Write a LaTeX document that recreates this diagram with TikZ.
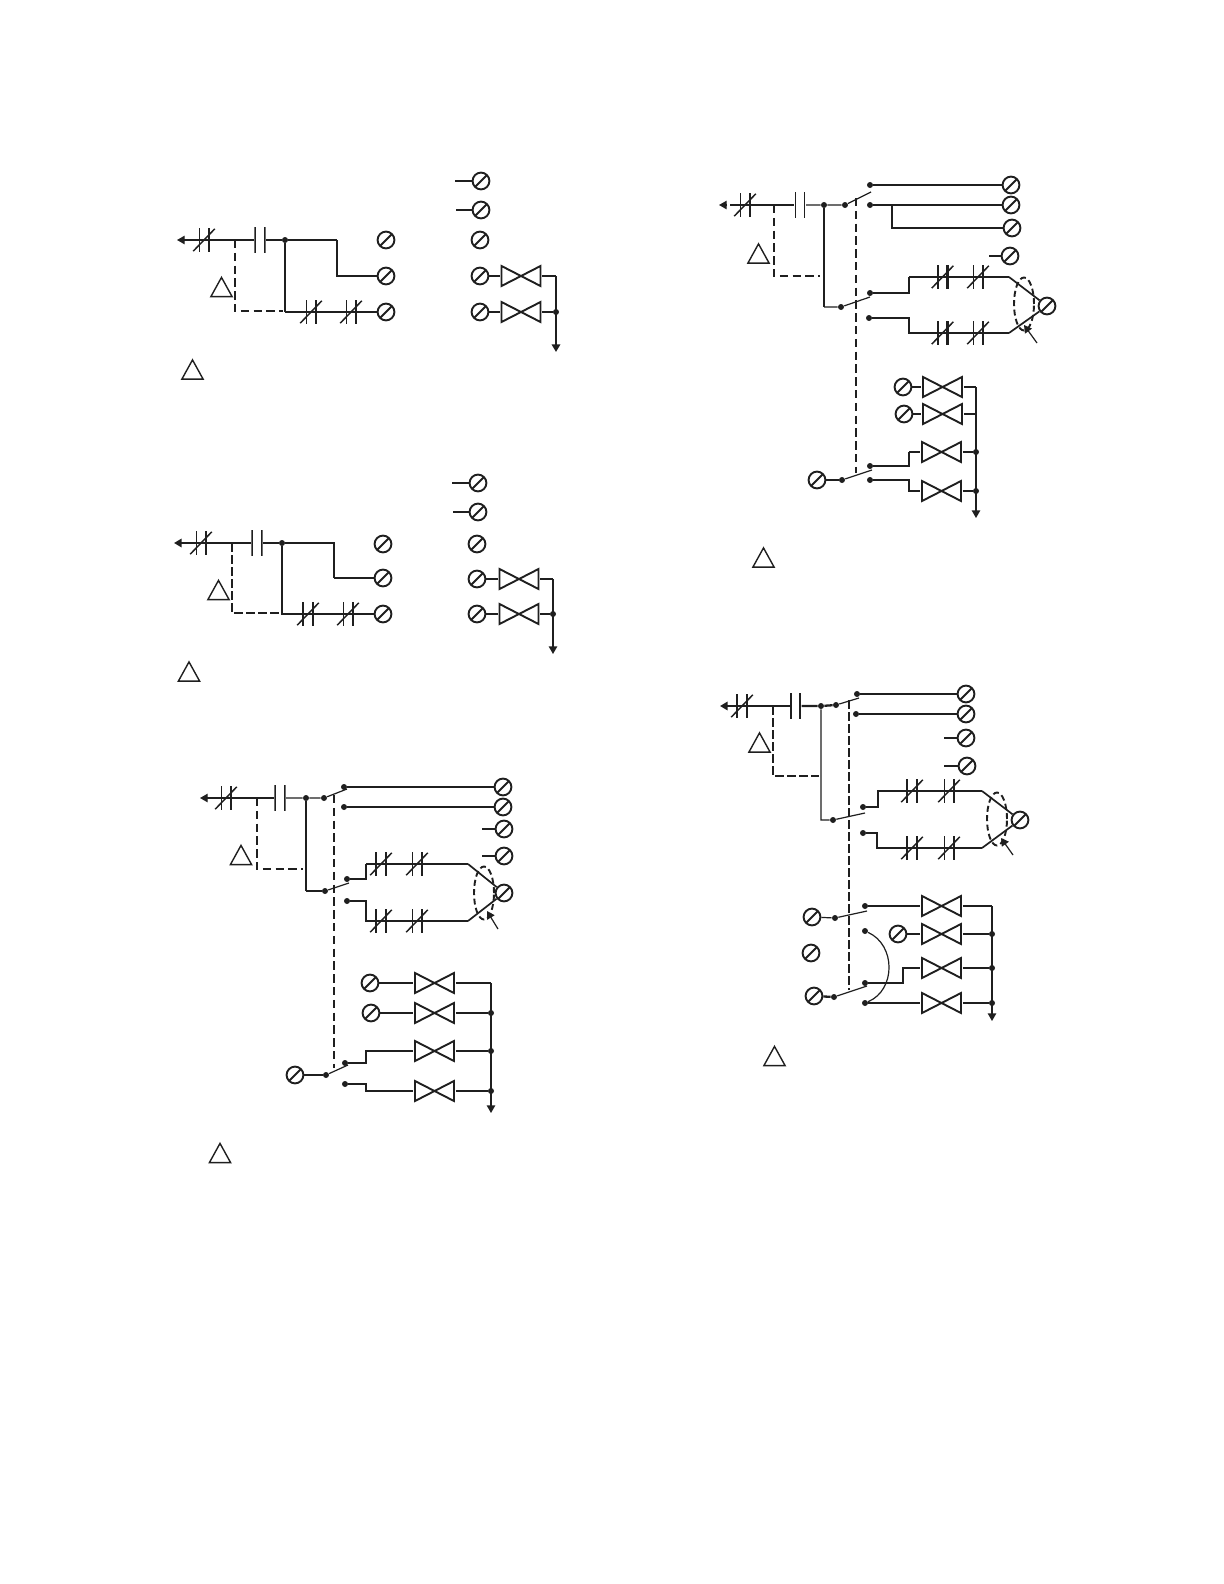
\documentclass[tikz,border=0pt]{standalone}
\usetikzlibrary{arrows.meta,shapes.geometric}
\colorlet{ink}{black!88}
\newcommand{\Wk}{1.1pt}
\newcommand{\Wn}{.6pt}
\tikzset{
  thinl/.style={line width=.6pt,draw=ink},
  thickl/.style={line width=1.15pt,draw=ink},
  dashthick/.style={line width=1pt,draw=ink,dash pattern=on 4.2pt off 2.2pt},
  dashthin/.style={line width=.55pt,draw=ink,dash pattern=on 4.3pt off 1.7pt},
  arrowtip/.style={-{Triangle[length=3.8pt,width=4.2pt]}},
  term/.style={circle,draw=ink,line width=.95pt,minimum size=8.4pt,inner sep=0pt,
    path picture={\draw[line width=.95pt,draw=ink] (path picture bounding box.south west)--(path picture bounding box.north east);}},
  dotn/.style={circle,fill=ink,minimum size=3pt,inner sep=0pt},
  valvesym/.style={rectangle,minimum width=21pt,minimum height=11.6pt,inner sep=0pt,
    path picture={\draw[line width=.95pt,draw=ink,line join=miter,shift={(path picture bounding box.center)}]
      (-9.75pt,-5pt)--(-9.75pt,5pt)--(9.75pt,-5pt)--(9.75pt,5pt)--cycle;}},
  nc/.style 2 args={rectangle,minimum size=12.4pt,inner sep=0pt,
    path picture={\begin{scope}[shift={(path picture bounding box.center)},draw=ink]
      \draw[line width=#1] (-2.45pt,-5.8pt)--(-2.45pt,5.8pt);
      \draw[line width=#2] (2.45pt,-5.8pt)--(2.45pt,5.8pt);
      \draw[line width=.75pt] (-5.4pt,-5.6pt)--(5.4pt,5.6pt);
    \end{scope}}},
  capk/.style={rectangle,minimum width=5.6pt,minimum height=12.6pt,inner sep=0pt,
    path picture={\begin{scope}[shift={(path picture bounding box.center)},draw=ink]
      \draw[line width=#1] (-2.4pt,-6.3pt)--(-2.4pt,6.3pt);
      \draw[line width=#1] (2.4pt,-6.3pt)--(2.4pt,6.3pt);
    \end{scope}}},
  trimark/.style={rectangle,minimum width=12.4pt,minimum height=11.4pt,inner sep=0pt,
    path picture={\draw[line width=.7pt,draw=ink,line join=miter,shift={(path picture bounding box.center)}]
      (-5.3pt,-4.8pt)--(5.3pt,-4.8pt)--(0pt,4.8pt)--cycle;}},
  loopn/.style={ellipse,dash pattern=on 3pt off 1.7pt,draw=ink,line width=.95pt,inner sep=0pt,minimum width=10pt,minimum height=26.5pt},
}
\begin{document}
\begin{tikzpicture}[x=.5pt,y=-.5pt]
\path[use as bounding box] (0,0) rectangle (1224,1584);

%% ---------- Diagram 1 ----------
\node[term] (A1) at (481,181) {};
\node[term] (A2) at (481,210) {};
\node[term] (A3) at (480,240) {};
\node[term] (A4) at (480,276) {};
\node[term] (A5) at (480,312) {};
\node[term] (B1) at (386,240) {};
\node[term] (B2) at (386,276) {};
\node[term] (B3) at (386,312) {};
\coordinate (As1) at (455,181);
\coordinate (As2) at (456,210);
\draw[thickl] (As1)--(A1);
\draw[thickl] (As2)--(A2);
\coordinate (Atip) at (177,240);
\node[nc={\Wn}{\Wn}] (Ac1) at (204,240) {};
\node[capk=\Wk] (Ak) at (260,240) {};
\node[dotn] (Ad) at (285,240) {};
\coordinate (Aj) at (235,240);
\coordinate (Ab1) at (337,240);
\coordinate (Ab2) at (337,276);
\coordinate (Ab3) at (285,312);
\coordinate (Ada) at (235,311);
\coordinate (Adb) at (283,311);
\node[nc={\Wn}{\Wk}] (Ac2) at (311,312) {};
\node[nc={\Wn}{\Wn}] (Ac3) at (351,312) {};
\draw[thinl,arrowtip] (Ak)--(Atip);
\draw[thinl] (Ak)--(Ad)--(Ab1);
\draw[thickl] (Ab1)--(Ab2)--(B2);
\draw[thinl] (Ad)--(Ab3);
\draw[thickl] (Ab3)--(Ac2.center)--(Ac3.center)--(B3);
\draw[dashthick] (Aj)--(Ada)--(Adb);
\node[valvesym] (Av1) at (521,276) {};
\node[valvesym] (Av2) at (521,312) {};
\coordinate (Ar1) at (556,276);
\node[dotn] (Ard) at (556,312) {};
\coordinate (Aend) at (556,352);
\draw[thinl] (A4)--(Av1.west);
\draw[thinl] (A5)--(Av2.west);
\draw[thinl] (Av1.east)--(Ar1);
\draw[thinl] (Av2.east)--(Ard);
\draw[thickl,arrowtip] (Ar1)--(Aend);
\node[trimark] (At1) at (221.5,287) {};
\node[trimark] (At2) at (192.5,369.5) {};

%% ---------- Diagram 2 ----------
\node[term] (C1) at (478,483) {};
\node[term] (C2) at (478,512) {};
\node[term] (C3) at (477,544) {};
\node[term] (C4) at (477,579) {};
\node[term] (C5) at (477,614) {};
\node[term] (D1) at (383,544) {};
\node[term] (D2) at (383,578) {};
\node[term] (D3) at (383,614) {};
\coordinate (Cs1) at (452,483);
\coordinate (Cs2) at (453,512);
\draw[thinl] (Cs1)--(C1);
\draw[thinl] (Cs2)--(C2);
\coordinate (Ctip) at (174,543);
\node[nc={\Wn}{\Wk}] (Cc1) at (201,543) {};
\node[capk=\Wk] (Ck) at (257,543) {};
\node[dotn] (Cd) at (282,543) {};
\coordinate (Cj) at (232,543);
\coordinate (Cb1) at (334,543);
\coordinate (Cb2) at (334,578);
\coordinate (Cb3) at (282,614);
\coordinate (Cda) at (232,613);
\coordinate (Cdb) at (280,613);
\node[nc={\Wk}{\Wk}] (Cc2) at (308,614) {};
\node[nc={\Wn}{\Wk}] (Cc3) at (348,614) {};
\draw[thickl,arrowtip] (Ck)--(Ctip);
\draw[thickl] (Ck)--(Cd)--(Cb1)--(Cb2);
\draw[thinl] (Cb2)--(D2);
\draw[thinl] (Cd)--(Cb3)--(Cc2.center)--(Cc3.center)--(D3);
\draw[dashthin] (Cj)--(Cda)--(Cdb);
\node[valvesym] (Cv1) at (519,579) {};
\node[valvesym] (Cv2) at (519,614) {};
\coordinate (Cr1) at (553,579);
\node[dotn] (Crd) at (553,614) {};
\coordinate (Cend) at (553,654);
\draw[thickl] (C4)--(Cv1.west);
\draw[thinl] (C5)--(Cv2.west);
\draw[thickl] (Cv1.east)--(Cr1);
\draw[thinl] (Cv2.east)--(Crd);
\draw[thinl,arrowtip] (Cr1)--(Cend);
\node[trimark] (Ct1) at (218.5,590) {};
\node[trimark] (Ct2) at (189,671.5) {};

%% ---------- Diagram 3 ----------
\node[term] (E1) at (503,787) {};
\node[term] (E2) at (503,807) {};
\node[term] (E3) at (504,829) {};
\node[term] (E4) at (504,856) {};
\node[term] (E5) at (504,893) {};
\coordinate (Es3) at (482,829);
\coordinate (Es4) at (482,856);
\draw[thinl] (Es3)--(E3);
\draw[thinl] (Es4)--(E4);
\coordinate (Etip) at (200,798);
\node[nc={\Wn}{\Wk}] (Ec1) at (226,798) {};
\node[capk=\Wk] (Ek) at (280,798) {};
\coordinate (Ej) at (257,798);
\node[dotn] (Ed) at (306,798) {};
\node[dotn] (Ep1) at (324,798) {};
\node[dotn] (Eq1) at (344,787) {};
\node[dotn] (Eq2) at (344,807) {};
\coordinate (Ebl1) at (347,789);
\draw[thinl,arrowtip] (Ek)--(Etip);
\draw[thinl] (Ek)--(Ed)--(Ep1)--(Ebl1);
\draw[thickl] (Eq1)--(E1);
\draw[thickl] (Eq2)--(E2);
\coordinate (Eda) at (257,869);
\coordinate (Edb) at (303,869);
\draw[dashthick] (Ej)--(Eda)--(Edb);
\coordinate (Eb1) at (306,891);
\node[dotn] (Ep2) at (325,891) {};
\draw[thinl] (Ed)--(Eb1);
\draw[thickl] (Eb1)--(Ep2);
\coordinate (Ebl2) at (349,883);
\draw[thinl] (Ep2)--(Ebl2);
\node[dotn] (Eq3) at (347,879) {};
\node[dotn] (Eq4) at (347,901) {};
\coordinate (Eu1) at (366,879);
\coordinate (Eu2) at (366,864);
\coordinate (Eu3) at (468,864);
\coordinate (El1) at (366,901);
\coordinate (El2) at (366,921);
\coordinate (El3) at (468,921);
\node[nc={\Wk}{\Wk}] (Ec2) at (381,864) {};
\node[nc={\Wn}{\Wk}] (Ec3) at (417,864) {};
\node[nc={\Wk}{\Wk}] (Ec4) at (381,921) {};
\node[nc={\Wn}{\Wk}] (Ec5) at (417,921) {};
\draw[thickl] (Eq3)--(Eu1)--(Eu2);
\draw[thinl] (Eu2)--(Ec2.center)--(Ec3.center)--(Eu3);
\draw[thinl] (Eq4)--(El1)--(El2)--(Ec4.center)--(Ec5.center)--(El3);
\draw[line width=.85pt,draw=ink] (Eu3)--(E5);
\draw[line width=.85pt,draw=ink] (El3)--(E5);
\node[loopn] (El) at (484,893) {};
\coordinate (Ea1) at (498,929);
\coordinate (Ea2) at (487,911);
\draw[thinl,arrowtip] (Ea1)--(Ea2);
\coordinate (Edv1) at (334,795);
\coordinate (Edv2) at (334,1068);
\draw[dashthick] (Edv1)--(Edv2);
\node[term] (F1) at (370,983) {};
\node[term] (F2) at (371,1013) {};
\node[term] (F3) at (295,1075) {};
\node[valvesym] (Fv1) at (434.5,983) {};
\node[valvesym] (Fv2) at (434.5,1013) {};
\node[valvesym] (Fv3) at (434.5,1051) {};
\node[valvesym] (Fv4) at (434.5,1091) {};
\coordinate (Ft) at (491,983);
\node[dotn] (Fd2) at (491,1013) {};
\node[dotn] (Fd3) at (491,1051) {};
\node[dotn] (Fd4) at (491,1091) {};
\coordinate (Fend) at (491,1113);
\draw[thinl] (F1)--(Fv1.west);
\draw[thickl] (F2)--(Fv2.west);
\draw[thinl] (Fv1.east)--(Ft);
\draw[thickl] (Fv2.east)--(Fd2);
\draw[thickl] (Fv3.east)--(Fd3);
\draw[thickl] (Fv4.east)--(Fd4);
\draw[thinl,arrowtip] (Ft)--(Fend);
\node[dotn] (Fp) at (326,1075) {};
\node[dotn] (Fq1) at (345,1063) {};
\node[dotn] (Fq2) at (345,1084) {};
\coordinate (Fbl) at (348,1065);
\draw[thickl] (F3)--(Fp);
\draw[thinl] (Fp)--(Fbl);
\coordinate (Fu1) at (366,1063);
\coordinate (Fu2) at (366,1051);
\coordinate (Fl1) at (366,1084);
\coordinate (Fl2) at (366,1091);
\draw[thickl] (Fq1)--(Fu1)--(Fu2)--(Fv3.west);
\draw[thickl] (Fq2)--(Fl1)--(Fl2)--(Fv4.west);
\node[trimark] (Et1) at (241,855) {};
\node[trimark] (Et2) at (220,1153) {};

%% ---------- Diagram 4 ----------
\node[term] (G1) at (1011,185) {};
\node[term] (G2) at (1011,205) {};
\node[term] (G3) at (1012,228) {};
\node[term] (G4) at (1010,256) {};
\node[term] (G5) at (1047,306) {};
\coordinate (Gs4) at (989,256);
\draw[thinl] (Gs4)--(G4);
\coordinate (Gtip) at (719,205);
\coordinate (Gtail) at (727,205);
\draw[thinl,arrowtip] (Gtail)--(Gtip);
\coordinate (Gst) at (730,205);
\node[nc={\Wn}{\Wk}] (Gc1) at (745,205) {};
\node[capk=\Wn] (Gk) at (800,205) {};
\coordinate (Gj) at (774,205);
\node[dotn] (Gd) at (824,205) {};
\node[dotn] (Gp1) at (845,205) {};
\coordinate (Gbl1) at (871,192);
\node[dotn] (Gq1) at (870,185) {};
\node[dotn] (Gq2) at (870,205) {};
\draw[thinl] (Gst)--(Gk);
\draw[thinl] (Gk)--(Gd)--(Gp1)--(Gbl1);
\draw[thickl] (Gq1)--(G1);
\draw[thickl] (Gq2)--(G2);
\coordinate (Gbr) at (892,205);
\coordinate (Gbr2) at (892,228);
\draw[thickl] (Gbr)--(Gbr2)--(G3);
\coordinate (Gda) at (774,276);
\coordinate (Gdb) at (820,276);
\draw[dashthick] (Gj)--(Gda)--(Gdb);
\coordinate (Gb1) at (824,307);
\node[dotn] (Gp2) at (841,307) {};
\coordinate (Gbl2) at (870,297);
\draw[thickl] (Gd)--(Gb1);
\draw[thinl] (Gb1)--(Gp2)--(Gbl2);
\node[dotn] (Gq3) at (870,293) {};
\node[dotn] (Gq4) at (869,318) {};
\coordinate (Gu1) at (909,293);
\coordinate (Gu2) at (909,277);
\coordinate (Gu3) at (1009,277);
\coordinate (Gl1) at (909,318);
\coordinate (Gl2) at (909,333);
\coordinate (Gl3) at (1009,333);
\node[nc={\Wk}{\Wk}] (Gc2) at (942.5,277) {};
\node[nc={\Wn}{\Wk}] (Gc3) at (978,277) {};
\node[nc={\Wk}{\Wk}] (Gc4) at (942.5,333) {};
\node[nc={\Wn}{\Wk}] (Gc5) at (978,333) {};
\draw[thickl] (Gq3)--(Gu1)--(Gu2);
\draw[thinl] (Gu2)--(Gc2.center)--(Gc3.center)--(Gu3);
\draw[thinl] (Gq4)--(Gl1)--(Gl2)--(Gc4.center)--(Gc5.center)--(Gl3);
\draw[line width=.85pt,draw=ink] (Gu3)--(G5);
\draw[line width=.85pt,draw=ink] (Gl3)--(G5);
\node[loopn] (Gl) at (1024,304) {};
\coordinate (Ga1) at (1037,343);
\coordinate (Ga2) at (1024,325);
\draw[thinl,arrowtip] (Ga1)--(Ga2);
\coordinate (Gdv1) at (856,198);
\coordinate (Gdv2) at (856,473);
\draw[dashthick] (Gdv1)--(Gdv2);
\node[term] (H1) at (903,387) {};
\node[term] (H2) at (904,414) {};
\node[term] (H3) at (817,480) {};
\node[valvesym] (Hv1) at (942.5,387) {};
\node[valvesym] (Hv2) at (942.5,414) {};
\node[valvesym] (Hv3) at (941.5,452) {};
\node[valvesym] (Hv4) at (941.5,491) {};
\coordinate (Ht) at (976,387);
\coordinate (Hj2) at (976,414);
\node[dotn] (Hd3) at (976,452) {};
\node[dotn] (Hd4) at (976,491) {};
\coordinate (Hend) at (976,518);
\draw[thickl] (H1)--(Hv1.west);
\draw[thickl] (H2)--(Hv2.west);
\draw[thickl] (Hv1.east)--(Ht);
\draw[thickl] (Hv2.east)--(Hj2);
\draw[thinl] (Hv3.east)--(Hd3);
\draw[thickl] (Hv4.east)--(Hd4);
\draw[thinl,arrowtip] (Ht)--(Hend);
\node[dotn] (Hp) at (842,480) {};
\node[dotn] (Hq1) at (870,466) {};
\node[dotn] (Hq2) at (870,480) {};
\coordinate (Hbl) at (872,470);
\draw[thickl] (H3)--(Hp);
\draw[thinl] (Hp)--(Hbl);
\coordinate (Hu1) at (909,466);
\coordinate (Hu2) at (909,452);
\coordinate (Hl1) at (909,480);
\coordinate (Hl2) at (909,491);
\draw[thickl] (Hq1)--(Hu1)--(Hu2);
\draw[thinl] (Hu2)--(Hv3.west);
\draw[thickl] (Hq2)--(Hl1)--(Hl2)--(Hv4.west);
\node[trimark] (Gt1) at (758.5,253.5) {};
\node[trimark] (Gt2) at (763.5,557.5) {};

%% ---------- Diagram 5 ----------
\node[term] (I1) at (966,694) {};
\node[term] (I2) at (966,714) {};
\node[term] (I3) at (966,738) {};
\node[term] (I4) at (967,766) {};
\node[term] (I5) at (1020,820) {};
\coordinate (Is3) at (944,738);
\coordinate (Is4) at (944,766);
\draw[thickl] (Is3)--(I3);
\draw[thickl] (Is4)--(I4);
\coordinate (Itip) at (720,706);
\node[nc={\Wk}{\Wn}] (Ic1) at (742,706) {};
\node[capk=\Wk] (Ik) at (795.5,706) {};
\coordinate (Ij) at (773,706);
\node[dotn] (Id) at (821,706) {};
\node[dotn] (Ip1) at (836,705) {};
\coordinate (Ibl1) at (859,698);
\node[dotn] (Iq1) at (857,694) {};
\node[dotn] (Iq2) at (856,714) {};
\draw[thickl,arrowtip] (Ik)--(Itip);
\draw[thickl] (Ik)--(Id)--(Ip1);
\draw[thinl] (Ip1)--(Ibl1);
\draw[thickl] (Iq1)--(I1);
\draw[thickl] (Iq2)--(I2);
\coordinate (Ida) at (773,776);
\coordinate (Idb) at (819,776);
\draw[dashthin] (Ij)--(Ida)--(Idb);
\coordinate (Ib1) at (821,820);
\node[dotn] (Ip2) at (833,820) {};
\coordinate (Ibl2) at (865,813);
\draw[thinl] (Id)--(Ib1)--(Ip2)--(Ibl2);
\node[dotn] (Iq3) at (863,807) {};
\node[dotn] (Iq4) at (863,833) {};
\coordinate (Iu1) at (878,807);
\coordinate (Iu2) at (878,791);
\coordinate (Iu3) at (982,791);
\coordinate (Il1) at (877,833);
\coordinate (Il2) at (877,848);
\coordinate (Il3) at (982,848);
\node[nc={\Wk}{\Wn}] (Ic2) at (912,791) {};
\node[nc={\Wn}{\Wn}] (Ic3) at (949,791) {};
\node[nc={\Wk}{\Wn}] (Ic4) at (912,848) {};
\node[nc={\Wn}{\Wn}] (Ic5) at (949,848) {};
\draw[thickl] (Iq3)--(Iu1)--(Iu2)--(Ic2.center)--(Ic3.center)--(Iu3);
\draw[thickl] (Iq4)--(Il1)--(Il2)--(Ic4.center)--(Ic5.center)--(Il3);
\draw[line width=.85pt,draw=ink] (Iu3)--(I5);
\draw[line width=.85pt,draw=ink] (Il3)--(I5);
\node[loopn] (Il) at (997,819) {};
\coordinate (Ia1) at (1013,855);
\coordinate (Ia2) at (1001,838);
\draw[thinl,arrowtip] (Ia1)--(Ia2);
\coordinate (Idv1) at (849,700);
\coordinate (Idv2) at (849,990);
\draw[dashthin] (Idv1)--(Idv2);
\node[term] (J1) at (812,917) {};
\node[term] (J2) at (898,934) {};
\node[term] (J3) at (811,953) {};
\node[term] (J4) at (814,996) {};
\node[valvesym] (Jv1) at (941.5,906) {};
\node[valvesym] (Jv2) at (941.5,934) {};
\node[valvesym] (Jv3) at (941.5,968) {};
\node[valvesym] (Jv4) at (941.5,1003) {};
\coordinate (Jt) at (992,906);
\node[dotn] (Jd2) at (992,934) {};
\node[dotn] (Jd3) at (992,968) {};
\node[dotn] (Jd4) at (992,1003) {};
\coordinate (Jend) at (992,1021);
\draw[thickl] (Jv1.east)--(Jt);
\draw[thickl] (J2)--(Jv2.west);
\draw[thickl] (Jv2.east)--(Jd2);
\draw[thinl] (Jv3.east)--(Jd3);
\draw[thickl] (Jv4.east)--(Jd4);
\draw[thinl,arrowtip] (Jt)--(Jend);
\node[dotn] (Jp1) at (835,918) {};
\node[dotn] (Jq1) at (865,906) {};
\coordinate (Jbl1) at (867,911);
\draw[thinl] (J1)--(Jp1)--(Jbl1);
\draw[thickl] (Jq1)--(Jv1.west);
\node[dotn] (Jp2) at (834,997) {};
\node[dotn] (Jq2) at (865,983) {};
\node[dotn] (Jq3) at (865,1003) {};
\node[dotn] (Jq4) at (865,931) {};
\coordinate (Jbl2) at (867,986);
\draw[thickl] (J4)--(Jp2);
\draw[thinl] (Jp2)--(Jbl2);
\coordinate (Ju1) at (903,983);
\coordinate (Ju2) at (903,968);
\draw[thinl] (Jq2)--(Ju1)--(Ju2)--(Jv3.west);
\draw[thickl] (Jq3)--(Jv4.west);
\draw[thinl] (Jq4) .. controls (896,945) and (896,990) .. (Jq3);
\node[trimark] (It1) at (759.5,742.5) {};
\node[trimark] (It2) at (774.5,1056) {};
\end{tikzpicture}
\end{document}
